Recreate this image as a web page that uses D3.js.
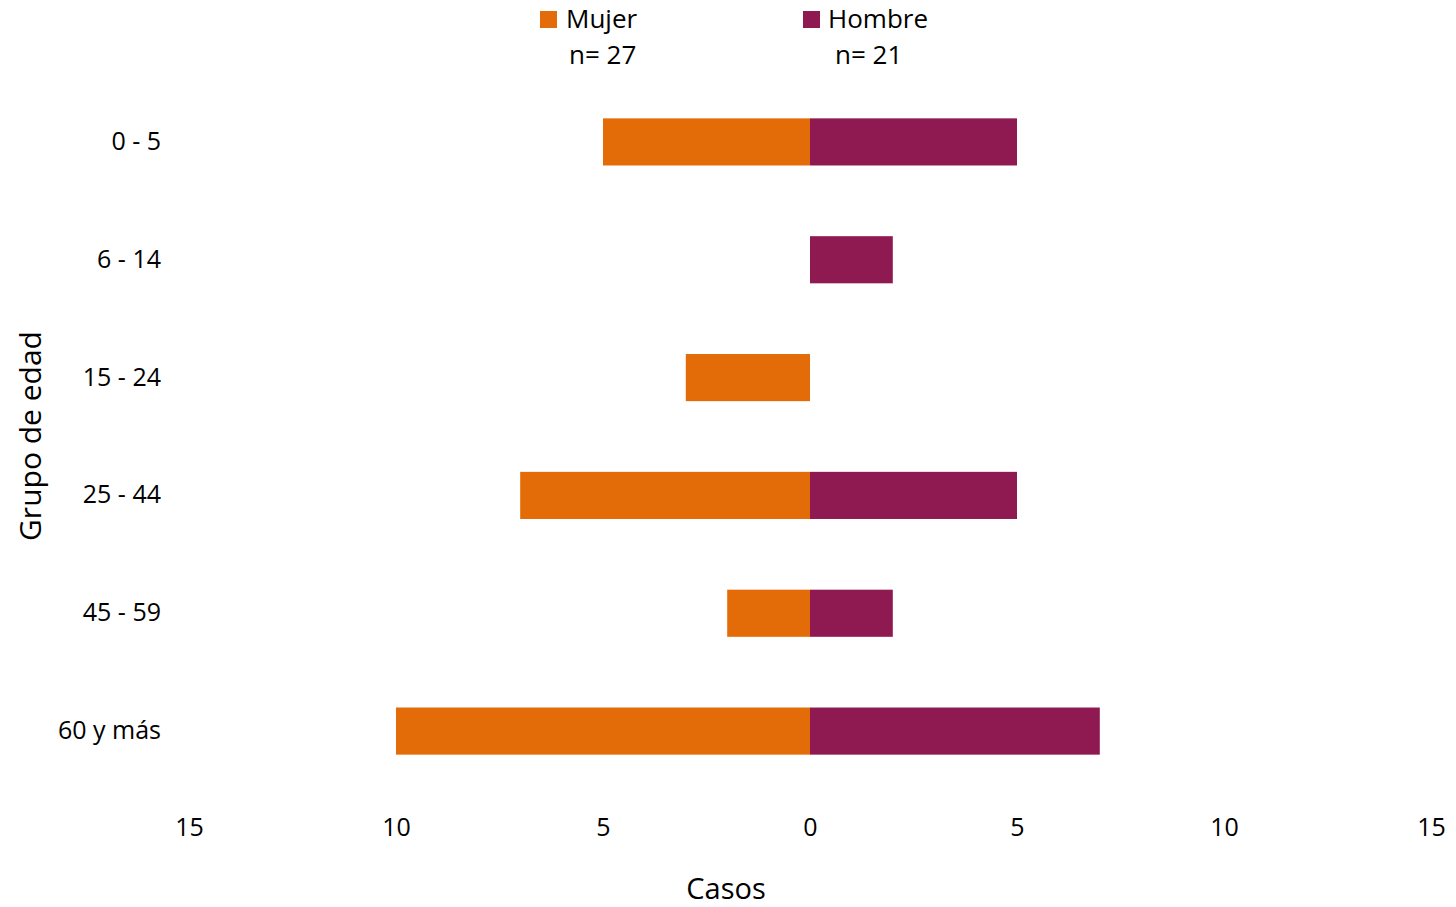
<!DOCTYPE html>
<html><head><meta charset="utf-8">
<script src="https://cdn.jsdelivr.net/npm/d3@7"></script>
<style>body{margin:0;background:#fff}svg{display:block;font-family:"Open Sans",sans-serif}</style>
</head><body>
<script>
const categories = ["0 - 5","6 - 14","15 - 24","25 - 44","45 - 59","60 y más"];
const mujer = [5,0,3,7,2,10];
const hombre = [5,2,0,5,2,7];
const xTicks = [-15,-10,-5,0,5,10,15];
const seriesNames = ["Mujer","Hombre"];
const seriesN = ["n= 27","n= 21"];
const colors = ["#E36C09","#8E1A51"];

const W=1456,H=907;
const svg=d3.select("body").append("svg").attr("width",W).attr("height",H);
const x=d3.scaleLinear().domain([-15,15]).range([189,1431]);
const y=d3.scaleBand().domain(categories).range([83,790]).paddingInner(0.6).paddingOuter(0.3);

const rows=categories.map((c,i)=>({c,m:mujer[i],h:hombre[i]}));
svg.append("g").selectAll("rect").data(rows).join("rect")
 .attr("x",d=>x(-d.m)).attr("width",d=>x(0)-x(-d.m))
 .attr("y",d=>y(d.c)).attr("height",y.bandwidth()).attr("fill",colors[0]);
svg.append("g").selectAll("rect").data(rows).join("rect")
 .attr("x",x(0)).attr("width",d=>x(d.h)-x(0))
 .attr("y",d=>y(d.c)).attr("height",y.bandwidth()).attr("fill",colors[1]);

const xa=svg.append("g").attr("transform","translate(0,818)")
 .call(d3.axisBottom(x).tickValues(xTicks).tickFormat(d=>Math.abs(d)).tickSize(0).tickPadding(0));
xa.select(".domain").remove();
xa.selectAll("text").attr("font-size",25).attr("font-family","Open Sans").attr("fill","#000").attr("dy","0.71em");

const ya=svg.append("g").attr("transform","translate(161,0)")
 .call(d3.axisLeft(y).tickSize(0).tickPadding(0));
ya.select(".domain").remove();
ya.selectAll("text").attr("font-size",25).attr("font-family","Open Sans").attr("fill","#000");

svg.append("text").attr("x",726).attr("y",899).attr("text-anchor","middle")
 .attr("font-size",29).text("Casos");
svg.append("text").attr("transform","translate(41,436) rotate(-90)").attr("text-anchor","middle")
 .attr("font-size",30).text("Grupo de edad");

const lg=[{x:540,tx:566,nx:569},{x:803,tx:828,nx:835}];
lg.forEach((p,i)=>{
 svg.append("rect").attr("x",p.x).attr("y",11).attr("width",17).attr("height",17).attr("fill",colors[i]);
 svg.append("text").attr("x",p.tx).attr("y",28).attr("font-size",26).text(seriesNames[i]);
 svg.append("text").attr("x",p.nx).attr("y",64).attr("font-size",26).text(seriesN[i]);
});
</script>
</body></html>
